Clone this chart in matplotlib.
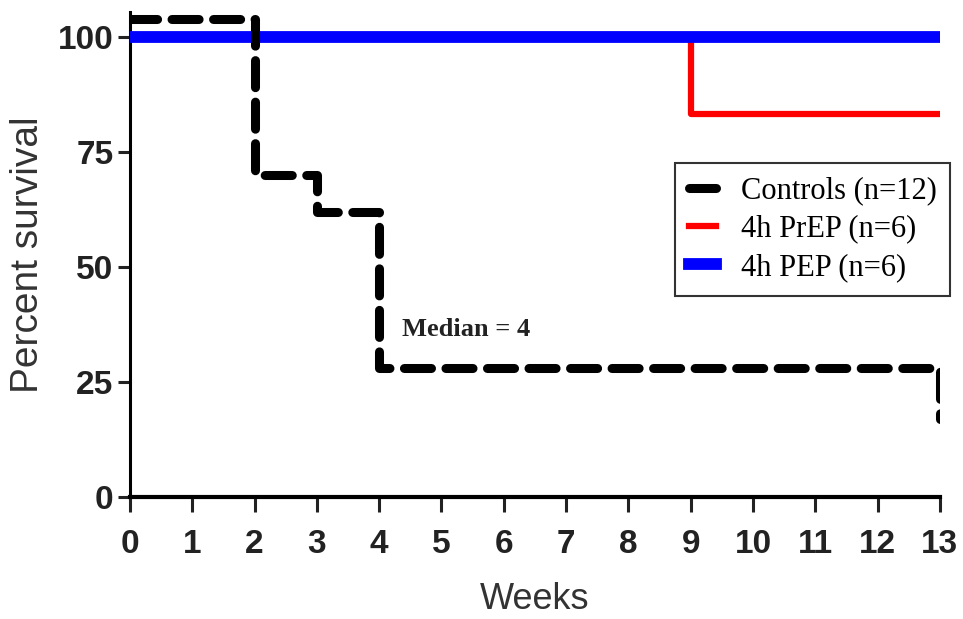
import matplotlib.pyplot as plt

# survival data (controls drawn slightly offset above 100)
ctrl_weeks = [0, 2, 3, 4, 13]
ctrl_surv = [104, 70, 62, 28, 17]
prep_weeks = [0, 9, 13]
prep_surv = [100, 83.3, 83.3]
pep_weeks = [0, 13]
pep_surv = [100, 100]

labels = ['Controls (n=12)', '4h PrEP (n=6)', '4h PEP (n=6)']
x_ticks = list(range(0, 14))
y_ticks = [0, 25, 50, 75, 100]

sans = 'Liberation Sans'

fig = plt.figure(figsize=(9.63, 6.19), dpi=100)
ax = fig.add_axes([0.135, 0.197, 0.841, 0.784])

l2, = ax.step(prep_weeks, prep_surv, where='post', color='#ff0000', lw=4.5,
              zorder=2, label=labels[1])
l3, = ax.step(pep_weeks, pep_surv, where='post', color='#0000ff', lw=8.5,
              zorder=3, label=labels[2])
l1, = ax.step(ctrl_weeks, ctrl_surv, where='post', color='black', lw=6.5,
              linestyle=(0, (3, 1.6)), dash_capstyle='round', zorder=4,
              label=labels[0])

ax.set_xlim(0, 13)
ax.set_ylim(0, 105.6)
ax.set_xticks(x_ticks)
ax.set_yticks(y_ticks)
ax.spines['top'].set_visible(False)
ax.spines['right'].set_visible(False)
ax.spines['left'].set_linewidth(2.2)
ax.spines['bottom'].set_linewidth(3)
ax.tick_params(axis='x', width=2.2, length=11, labelsize=24, colors='#222222', pad=12)
ax.tick_params(axis='y', width=2.2, length=9, labelsize=24, colors='#222222', pad=3)
for t in ax.get_xticklabels() + ax.get_yticklabels():
    t.set_fontfamily(sans)
    t.set_fontweight('bold')

ax.set_xlabel('Weeks', fontsize=26, family=sans, color='#333333',
              labelpad=16)
ax.set_ylabel('Percent survival', fontsize=28, family=sans,
              color='#333333', labelpad=8)

ax.text(4.37, 36.4, 'Median = 4', fontsize=19, fontweight='bold',
        family='Liberation Serif', va='center', ha='left', color='#222222')

leg = fig.legend(handles=[l1, l2, l3], loc='upper left',
                 bbox_to_anchor=(0.701, 0.737), frameon=True, fancybox=False,
                 prop={'family': 'Liberation Serif', 'size': 22},
                 handlelength=0.9, handletextpad=0.8, borderpad=0.45,
                 labelspacing=0.3, borderaxespad=0)
leg.get_frame().set_edgecolor('black')
leg.get_frame().set_linewidth(1.5)

fig.savefig('out.png', dpi=100)
